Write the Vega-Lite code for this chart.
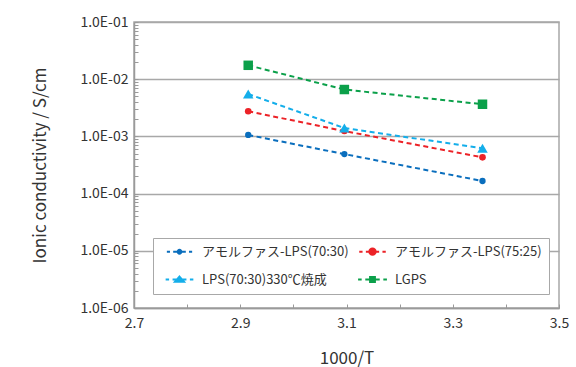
{
  "$schema": "https://vega.github.io/schema/vega-lite/v6.json",
  "width": 425,
  "height": 286,
  "autosize": {"type": "none"},
  "padding": {"left": 134, "top": 22, "right": 17, "bottom": 59},
  "background": "white",
  "config": {
    "font": "Noto Sans CJK JP",
    "view": {"stroke": "#a8a8a8", "strokeWidth": 1.5},
    "axis": {"labelColor": "#333333", "titleColor": "#333333", "titleFontWeight": "normal", "domainColor": "#9a9a9a", "domainWidth": 1.5, "tickColor": "#9a9a9a", "tickWidth": 1}
  },
  "data": {
    "values": [
      {"series": "アモルファス-LPS(70:30)", "x": 2.915, "y": 0.00106},
      {"series": "アモルファス-LPS(70:30)", "x": 3.096, "y": 0.00049},
      {"series": "アモルファス-LPS(70:30)", "x": 3.356, "y": 0.000166},
      {"series": "アモルファス-LPS(75:25)", "x": 2.915, "y": 0.00275},
      {"series": "アモルファス-LPS(75:25)", "x": 3.096, "y": 0.00124},
      {"series": "アモルファス-LPS(75:25)", "x": 3.356, "y": 0.00043},
      {"series": "LPS(70:30)330℃焼成", "x": 2.915, "y": 0.0055},
      {"series": "LPS(70:30)330℃焼成", "x": 3.096, "y": 0.0014},
      {"series": "LPS(70:30)330℃焼成", "x": 3.356, "y": 0.00062},
      {"series": "LGPS", "x": 2.915, "y": 0.0175},
      {"series": "LGPS", "x": 3.096, "y": 0.0066},
      {"series": "LGPS", "x": 3.356, "y": 0.00365}
    ]
  },
  "encoding": {
    "x": {
      "field": "x", "type": "quantitative",
      "scale": {"domain": [2.7, 3.5], "nice": false, "zero": false},
      "axis": {
        "title": "1000/T", "titleFontSize": 17, "titleY": 55, "titleBaseline": "alphabetic",
        "values": [2.7, 2.8, 2.9, 3.0, 3.1, 3.2, 3.3, 3.4, 3.5],
        "labelExpr": "abs(round(datum.value*10)%2)==1 ? format(datum.value,'.1f') : ''",
        "labelFontSize": 14, "labelPadding": 12, "labelOverlap": false, "labelFlush": false,
        "tickSize": -4, "grid": false
      }
    },
    "y": {
      "field": "y", "type": "quantitative",
      "scale": {"type": "log", "domain": [0.000001, 0.1], "nice": false},
      "axis": {
        "title": "Ionic conductivity / S/cm", "titleFontSize": 17, "titleX": -94, "titleY": 143, "titleBaseline": "middle", "titleAngle": -90, "titleAlign": "center",
        "values": [0.000001, 0.000002, 0.000003, 0.000004, 0.000005, 0.000006, 0.000007, 0.000008, 0.000009,
                   0.00001, 0.00002, 0.00003, 0.00004, 0.00005, 0.00006, 0.00007, 0.00008, 0.00009,
                   0.0001, 0.0002, 0.0003, 0.0004, 0.0005, 0.0006, 0.0007, 0.0008, 0.0009,
                   0.001, 0.002, 0.003, 0.004, 0.005, 0.006, 0.007, 0.008, 0.009,
                   0.01, 0.02, 0.03, 0.04, 0.05, 0.06, 0.07, 0.08, 0.09, 0.1],
        "labelExpr": "abs(log(datum.value)/LN10 - round(log(datum.value)/LN10)) < 0.001 ? '1.0E-0' + (-round(log(datum.value)/LN10)) : ''",
        "labelFontSize": 14, "labelPadding": 10, "labelOverlap": false, "labelFlush": false,
        "tickSize": -4,
        "grid": true, "gridColor": "#a8a8a8", "gridWidth": 1.5,
        "gridOpacity": {"condition": {"test": "abs(log(datum.value)/LN10 - round(log(datum.value)/LN10)) < 0.001", "value": 1}, "value": 0}
      }
    },
    "color": {
      "field": "series", "type": "nominal",
      "scale": {
        "domain": ["アモルファス-LPS(70:30)", "アモルファス-LPS(75:25)", "LPS(70:30)330℃焼成", "LGPS"],
        "range": ["#0A6EBD", "#EC2227", "#14AEEA", "#0BA04A"]
      }
    }
  },
  "layer": [
    {
      "mark": {"type": "point", "filled": false, "opacity": 0, "strokeWidth": 2},
      "encoding": {
        "color": {
          "field": "series", "type": "nominal",
          "legend": {
            "title": null, "orient": "none", "legendX": 19, "legendY": 216, "columns": 2,
            "direction": "horizontal",
            "labelFontSize": 13, "labelColor": "#333333", "labelLimit": 300,
            "symbolSize": 100, "symbolOffset": 13, "labelOffset": 16, "symbolStrokeWidth": 2, "symbolOpacity": 1,
            "columnPadding": 4, "rowPadding": 13, "padding": 7,
            "strokeColor": "#a8a8a8", "fillColor": "white"
          }
        },
        "shape": {
          "field": "series", "type": "nominal",
          "scale": {
            "domain": ["アモルファス-LPS(70:30)", "アモルファス-LPS(75:25)", "LPS(70:30)330℃焼成", "LGPS"],
            "range": [
              "M-4,0H-3M-2,0H2M3,0H4M-0.6,0A0.6,0.6,0,1,0,0.6,0A0.6,0.6,0,1,0,-0.6,0ZM-0.25,0A0.25,0.25,0,1,0,0.25,0A0.25,0.25,0,1,0,-0.25,0Z",
              "M-4,0H-3M-2,0H2M3,0H4M-0.96,0A0.96,0.96,0,1,0,0.96,0A0.96,0.96,0,1,0,-0.96,0ZM-0.6,0A0.6,0.6,0,1,0,0.6,0A0.6,0.6,0,1,0,-0.6,0ZM-0.25,0A0.25,0.25,0,1,0,0.25,0A0.25,0.25,0,1,0,-0.25,0Z",
              "M-4,0H-3M-2,0H2M3,0H4M0,-0.85L1.3,0.65L-1.3,0.65ZM0,-0.35L0.65,0.4L-0.65,0.4ZM-0.2,0.2H0.2",
              "M-4,0H-3M-2,0H2M3,0H4M-0.67,-0.67H0.67V0.67H-0.67ZM-0.3,-0.3H0.3V0.3H-0.3ZM-0.1,0H0.1"
            ]
          },
          "legend": null
        }
      }
    },
    {
      "mark": {"type": "line", "strokeWidth": 2, "strokeDash": [5, 3.5]}
    },
    {
      "transform": [{"filter": {"field": "series", "oneOf": ["アモルファス-LPS(70:30)", "アモルファス-LPS(75:25)"]}}],
      "mark": {"type": "point", "shape": "circle", "filled": true, "opacity": 1},
      "encoding": {
        "size": {
          "field": "series", "type": "nominal",
          "scale": {
            "domain": ["アモルファス-LPS(70:30)", "アモルファス-LPS(75:25)", "LPS(70:30)330℃焼成", "LGPS"],
            "range": [40, 52, 110, 90]
          },
          "legend": null
        }
      }
    },
    {
      "transform": [{"filter": {"field": "series", "equal": "LPS(70:30)330℃焼成"}}],
      "mark": {"type": "point", "shape": "triangle-up", "filled": true, "opacity": 1, "size": 110}
    },
    {
      "transform": [{"filter": {"field": "series", "equal": "LGPS"}}],
      "mark": {"type": "point", "shape": "square", "filled": true, "opacity": 1, "size": 90}
    }
  ]
}
